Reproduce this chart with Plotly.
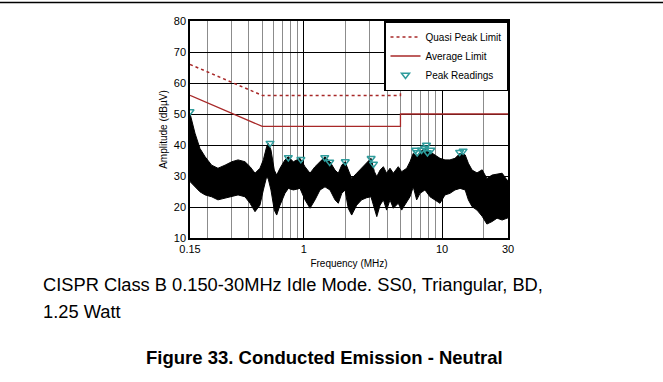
import plotly.graph_objects as go

# ---- data ----
env_freq = [0.150, 0.163, 0.177, 0.193, 0.215, 0.239, 0.269, 0.301, 0.334, 0.375,
            0.408, 0.443, 0.481, 0.509, 0.538, 0.553, 0.578, 0.611, 0.636, 0.672,
            0.730, 0.772, 0.839, 0.938, 1.019, 1.108, 1.204, 1.309, 1.422, 1.545,
            1.680, 1.775, 1.880, 1.986, 2.094, 2.218, 2.411, 2.619, 2.850, 3.06,
            3.24, 3.37, 3.56, 3.76, 3.97, 4.20, 4.44, 4.82, 5.10, 5.55,
            5.86, 6.19, 6.55, 6.92, 7.52, 8.18, 8.89, 9.66, 10.5, 11.4,
            12.4, 13.5, 14.7, 15.5, 16.5, 17.9, 19.5, 21.1, 23.0, 25.0,
            27.2, 29.5, 30.0]
env_upper = [50.2, 43.8, 38.9, 36.2, 33.5, 32.5, 33.5, 34.6, 35.2, 34.6,
             33.0, 30.9, 32.5, 35.2, 39.5, 40.5, 38.4, 31.9, 30.3, 32.5,
             35.2, 36.2, 34.6, 35.7, 33.0, 30.9, 33.0, 34.6, 36.2, 34.6,
             31.9, 30.9, 33.5, 34.6, 31.9, 29.2, 30.9, 32.5, 34.1, 35.7,
             31.4, 29.8, 31.9, 33.0, 30.9, 32.5, 30.9, 33.0, 31.4, 32.5,
             34.6, 37.3, 36.2, 37.8, 38.9, 37.8, 36.8, 35.7, 35.2, 35.2,
             35.7, 37.3, 36.8, 34.1, 31.9, 31.0, 32.0, 29.2, 30.3, 30.5,
             30.9, 28.7, 28.5]
env_lower = [28.2, 26.5, 24.9, 23.9, 23.3, 22.3, 22.8, 23.3, 23.9, 23.3,
             21.2, 18.5, 20.6, 25.5, 29.8, 29.0, 25.5, 19.0, 17.4, 20.6,
             24.4, 26.0, 25.5, 26.0, 22.3, 19.6, 22.3, 25.5, 26.5, 25.5,
             22.3, 21.2, 24.4, 25.5, 19.6, 17.4, 20.6, 22.3, 23.0, 23.3,
             19.0, 16.9, 20.6, 22.3, 19.0, 22.3, 19.6, 21.2, 19.0, 21.7,
             23.3, 26.5, 22.3, 24.4, 25.5, 23.3, 22.3, 21.2, 23.9, 24.4,
             25.5, 26.0, 25.5, 22.3, 20.1, 19.0, 17.0, 14.5, 15.3, 16.4,
             15.8, 16.4, 16.5]

qp_freq = [0.15, 0.5, 5.0, 5.0, 30.0]
qp_level = [66, 56, 56, 60, 60]
avg_freq = [0.15, 0.5, 5.0, 5.0, 30.0]
avg_level = [56, 46, 46, 50, 50]

peak_freq = [0.150, 0.569, 0.772, 0.951, 1.416, 1.538, 1.994, 3.068, 3.19,
             6.43, 6.61, 7.10, 7.50, 7.71, 7.84, 8.29, 13.4, 14.2]
peak_level = [50.8, 40.6, 36.0, 35.4, 36.0, 34.5, 34.7, 35.7, 33.9,
              38.4, 37.6, 38.4, 39.0, 40.0, 37.6, 38.4, 37.7, 38.1]

x_tick_vals = [0.15, 1, 10, 30]
x_tick_text = ["0.15", "1", "10", "30"]
x_minor_vals = [0.2, 0.3, 0.4, 0.5, 0.6, 0.7, 0.8, 0.9, 2, 3, 4, 5, 6, 7, 8, 9, 20]

FONT = "Liberation Sans, Arial, Helvetica, sans-serif"
LIMIT_RED = "#a82828"
TEAL = "#2f9c9c"

fig = go.Figure()

# emission trace drawn as a filled envelope
fig.add_trace(go.Scatter(x=env_freq, y=env_upper, mode="lines",
                         line=dict(color="black", width=1), showlegend=False,
                         hoverinfo="skip"))
fig.add_trace(go.Scatter(x=env_freq, y=env_lower, mode="lines",
                         line=dict(color="black", width=1), fill="tonexty",
                         fillcolor="black", showlegend=False, hoverinfo="skip"))

fig.add_trace(go.Scatter(x=qp_freq, y=qp_level, mode="lines", name="Quasi Peak Limit",
                         line=dict(color=LIMIT_RED, width=1.5, dash="dot")))
fig.add_trace(go.Scatter(x=avg_freq, y=avg_level, mode="lines", name="Average Limit",
                         line=dict(color=LIMIT_RED, width=1.3)))
fig.add_trace(go.Scatter(x=peak_freq, y=peak_level, mode="markers", name="Peak Readings",
                         marker=dict(symbol="triangle-down-open", size=7,
                                     color=TEAL, line=dict(color=TEAL, width=1.5))))

L, R, T, B = 190, 155, 21, 144
W, H = 663, 382
pw, ph = W - L - R, H - T - B


def px(xp):
    return (xp - L) / pw


def py(yp):
    return (H - B - yp) / ph


fig.update_layout(
    width=W, height=H,
    margin=dict(l=L, r=R, t=T, b=B, pad=0),
    paper_bgcolor="white", plot_bgcolor="white",
    font=dict(family=FONT, color="black", size=11),
    legend=dict(x=1, y=1, xanchor="right", yanchor="top", traceorder="normal",
                bgcolor="white", bordercolor="black", borderwidth=1.5,
                font=dict(size=10, family=FONT), itemwidth=30,
                tracegroupgap=0),
    xaxis=dict(type="log", range=[-0.8239, 1.4771],
               tickmode="array", tickvals=x_tick_vals, ticktext=x_tick_text,
               showgrid=True, gridcolor="black", gridwidth=1,
               showline=True, linecolor="black", linewidth=1.5, mirror=True,
               ticks="", tickfont=dict(size=11),
               minor=dict(tickvals=x_minor_vals, showgrid=True,
                          gridcolor="#8c8c8c", gridwidth=1, ticks=""),
               title=dict(text="Frequency (MHz)", font=dict(size=10), standoff=6),
               zeroline=False),
    yaxis=dict(range=[10, 80], dtick=10, tick0=10,
               showgrid=True, gridcolor="black", gridwidth=1,
               showline=True, linecolor="black", linewidth=1.5, mirror=True,
               ticks="", tickfont=dict(size=11),
               title=dict(text="Amplitude (dBµV)", font=dict(size=10), standoff=4),
               zeroline=False),
    shapes=[dict(type="line", xref="paper", yref="paper",
                 x0=px(0), x1=px(W), y0=py(2.5), y1=py(2.5),
                 line=dict(color="black", width=1.5))],
    annotations=[
        dict(text="CISPR Class B 0.150-30MHz Idle Mode. SS0, Triangular, BD,",
             xref="paper", yref="paper", x=px(41), y=py(284),
             xanchor="left", yanchor="middle", showarrow=False,
             font=dict(size=18.3, family=FONT)),
        dict(text="1.25 Watt",
             xref="paper", yref="paper", x=px(41), y=py(311),
             xanchor="left", yanchor="middle", showarrow=False,
             font=dict(size=18.3, family=FONT)),
        dict(text="<b>Figure 33. Conducted Emission - Neutral</b>",
             xref="paper", yref="paper", x=px(324), y=py(357),
             xanchor="center", yanchor="middle", showarrow=False,
             font=dict(size=18.5, family=FONT)),
    ],
)

fig.write_html("out.html", config={"displayModeBar": False},
               post_script="document.body.style.margin='0';document.body.style.padding='0';")
